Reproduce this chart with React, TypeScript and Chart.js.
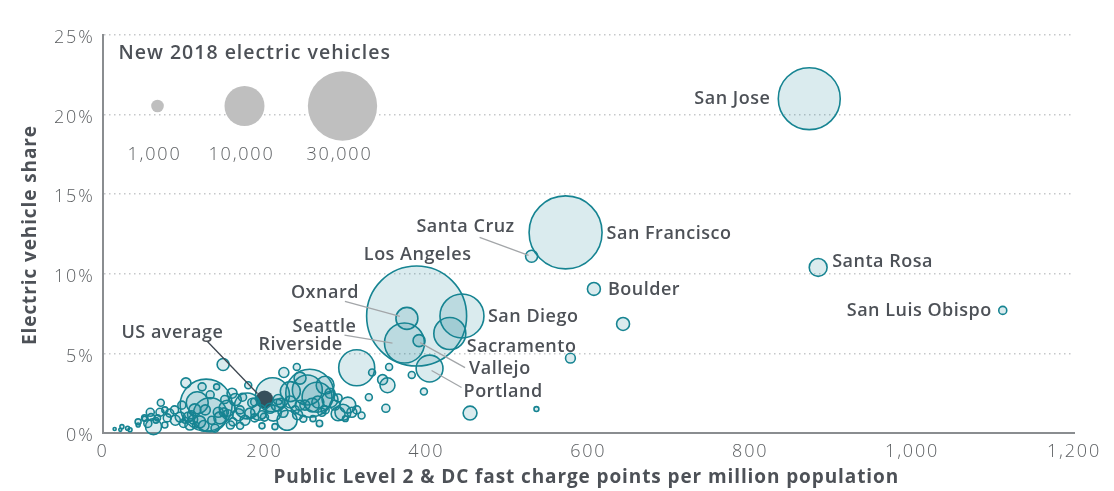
import React, { useEffect, useRef } from "react";
import { Chart, registerables } from "chart.js";

Chart.register(...registerables);

// ---------- DATA ----------
const xTickValues = [0, 200, 400, 600, 800, 1000, 1200];
const yTickValues = [0, 5, 10, 15, 20, 25];

const labeledCities = [
  "San Jose", "San Francisco", "Santa Rosa", "Boulder", "San Luis Obispo", "Santa Cruz",
  "Los Angeles", "Oxnard", "Seattle", "Riverside", "San Diego", "Sacramento", "Vallejo", "Portland",
];
const labeledChargePoints = [873, 572, 884, 607, 1112, 530, 388, 376, 373, 314, 444, 429, 391, 404];
const labeledShare = [21.0, 12.6, 10.4, 9.05, 7.7, 11.1, 7.35, 7.2, 5.65, 4.1, 7.35, 6.25, 5.8, 4.05];
const labeledNewEVs = [24000, 33300, 2000, 1050, 400, 900, 62500, 3000, 10000, 8100, 12100, 6400, 900, 4500];

const usAverageChargePoints = 200;
const usAverageShare = 2.1;
const usAverageNewEVs = 2000;

const otherChargePoints = [
  643, 578, 536, 454, 333, 346, 352, 354, 382, 397, 329, 240, 350, 224, 256, 253, 265, 232, 275, 244,
  281, 303, 297, 291, 308, 314, 271, 260, 228, 211, 216, 287, 244, 238, 259, 128, 133, 117, 149, 103,
  123, 72, 179, 193, 210, 213, 197, 63, 71, 83, 80, 90, 96, 106, 44, 56, 24, 34, 15, 133,
  141, 160, 164, 154, 145, 120, 108, 77, 176, 158, 188, 139, 114, 168, 180, 60, 66, 52, 100, 112,
  125, 150, 170, 185, 200, 220, 248, 268, 300, 320,
  89, 98, 102, 110, 115, 127, 135, 143, 151, 155, 161, 170, 173, 182, 188, 197, 207, 217, 223, 232,
  241, 250, 266, 275, 281, 291, 52, 59, 68, 77, 44, 31, 22,
];
const otherShare = [
  6.85, 4.7, 1.5, 1.25, 3.8, 3.35, 3.0, 4.15, 3.65, 2.6, 2.25, 4.15, 1.55, 3.8, 2.5, 2.7, 2.25, 2.6, 3.0, 3.45,
  2.1, 1.75, 1.3, 1.2, 1.3, 1.45, 1.3, 0.9, 0.8, 1.25, 1.75, 1.75, 1.75, 1.45, 1.75, 1.75, 1.15, 1.9, 4.3, 3.15,
  2.9, 1.9, 1.7, 1.3, 2.4, 0.4, 0.45, 0.4, 1.3, 1.25, 0.95, 0.8, 1.0, 1.0, 0.7, 0.6, 0.4, 0.2, 0.25, 2.4,
  2.9, 2.5, 2.1, 1.55, 0.95, 0.7, 0.5, 0.5, 0.8, 0.5, 0.95, 0.3, 1.45, 1.15, 3.0, 1.0, 0.8, 0.9, 0.6, 0.85,
  0.45, 1.3, 0.45, 1.9, 1.0, 1.9, 0.9, 0.6, 0.9, 1.1,
  1.45, 1.75, 0.8, 1.15, 0.5, 1.45, 0.8, 1.3, 2.1, 1.15, 0.7, 1.45, 2.25, 1.25, 1.95, 1.15, 1.55, 2.1, 1.3, 1.95,
  1.15, 1.75, 1.95, 1.45, 2.5, 2.2, 0.95, 1.3, 0.95, 1.45, 0.5, 0.3, 0.2,
];
const otherNewEVs = [
  1050, 600, 150, 1200, 300, 625, 1400, 300, 300, 300, 300, 300, 400, 625, 14400, 5600, 5600, 2500, 2000, 900,
  1600, 1600, 1600, 1200, 625, 400, 400, 225, 2500, 1600, 900, 600, 600, 400, 1200, 16900, 7200, 3000, 900, 625,
  400, 300, 4200, 1600, 7200, 225, 225, 1600, 400, 400, 400, 625, 625, 625, 225, 400, 100, 100, 60, 400,
  225, 625, 900, 1600, 900, 900, 625, 225, 625, 400, 400, 400, 900, 900, 300, 300, 200, 150, 400, 500,
  700, 500, 300, 500, 400, 500, 300, 250, 200, 300,
  400, 400, 225, 400, 225, 625, 400, 625, 400, 625, 400, 400, 400, 625, 400, 400, 625, 625, 625, 900,
  625, 625, 900, 400, 625, 400, 225, 400, 225, 225, 100, 100, 60,
];

const legendSizes = [1000, 10000, 30000];
const legendLabels = ["1,000", "10,000", "30,000"];
const legendTitle = "New 2018 electric vehicles";
const usAverageLabel = "US average";
const xAxisTitle = "Public Level 2 & DC fast charge points per million population";
const yAxisTitle = "Electric vehicle share";

// ---------- STYLE ----------
const FONT = '"Open Sans", "DejaVu Sans", sans-serif';
const TEXT = "#4d5157";
const TICK = "#5d6063";
const TEAL = "rgb(22, 132, 146)";
const TEAL_FILL = "rgba(22, 132, 150, 0.16)";

function radiusFor(evs: number): number {
  return 20 * Math.sqrt(evs / 10000);
}

type Layout = { dx: number; dy: number; align: CanvasTextAlign; line?: [number, number, number, number] };
const labelLayout: Record<string, Layout> = {
  "San Jose": { dx: -39, dy: 0, align: "right" },
  "San Francisco": { dx: 41, dy: 1, align: "left" },
  "Santa Rosa": { dx: 14, dy: -6, align: "left" },
  Boulder: { dx: 14, dy: 1, align: "left" },
  "San Luis Obispo": { dx: -11, dy: 0, align: "right" },
  "Santa Cruz": { dx: -66, dy: -29, align: "center", line: [-3, -1, -52, -19] },
  "Los Angeles": { dx: 1, dy: -61, align: "center" },
  Oxnard: { dx: -82, dy: -26, align: "center", line: [-7, -2, -62, -17] },
  Seattle: { dx: -80, dy: -16, align: "center", line: [-12, 0, -60, -8] },
  Riverside: { dx: -14, dy: -23, align: "right" },
  "San Diego": { dx: 26, dy: 1, align: "left" },
  Sacramento: { dx: 17, dy: 13, align: "left" },
  Vallejo: { dx: 50, dy: 28, align: "left", line: [1, 2, 46, 27] },
  Portland: { dx: 34, dy: 23, align: "left", line: [2, 2, 32, 19] },
};

const annotationPlugin = {
  id: "annotations",
  beforeDraw(chart: any) {
    (chart.ctx as any).letterSpacing = "1.8px";
  },
  afterDatasetsDraw(chart: any) {
    const { ctx, scales, chartArea } = chart;
    const xs = scales.x;
    const ys = scales.y;
    ctx.save();

    // leader lines
    labeledCities.forEach((name, i) => {
      const L = labelLayout[name];
      if (!L || !L.line) return;
      const px = xs.getPixelForValue(labeledChargePoints[i]);
      const py = ys.getPixelForValue(labeledShare[i]);
      ctx.strokeStyle = "#a3a6a9";
      ctx.lineWidth = 1.3;
      ctx.beginPath();
      ctx.moveTo(px + L.line[0], py + L.line[1]);
      ctx.lineTo(px + L.line[2], py + L.line[3]);
      ctx.stroke();
    });

    // US average leader
    const ux = xs.getPixelForValue(usAverageChargePoints);
    const uy = ys.getPixelForValue(usAverageShare);
    ctx.strokeStyle = "#3d4650";
    ctx.lineWidth = 1.3;
    ctx.beginPath();
    ctx.moveTo(ux - 7, uy - 6);
    ctx.lineTo(ux - 57, uy - 58);
    ctx.stroke();

    // city labels
    ctx.letterSpacing = "0.5px";
    ctx.font = `600 18px ${FONT}`;
    ctx.fillStyle = TEXT;
    ctx.textBaseline = "middle";
    labeledCities.forEach((name, i) => {
      const L = labelLayout[name];
      const px = xs.getPixelForValue(labeledChargePoints[i]);
      const py = ys.getPixelForValue(labeledShare[i]);
      ctx.textAlign = L.align;
      ctx.fillText(name, px + L.dx, py + L.dy);
    });
    ctx.textAlign = "center";
    ctx.fillText(usAverageLabel, ux - 92, uy - 67);

    // size legend
    const lx = chartArea.left;
    const ly = chartArea.top;
    ctx.textAlign = "left";
    ctx.letterSpacing = "1px";
    ctx.font = `600 19.5px ${FONT}`;
    ctx.fillText(legendTitle, lx + 16, ly + 18);
    const centers = [55, 142, 240];
    ctx.fillStyle = "#bfbfbf";
    legendSizes.forEach((v, i) => {
      ctx.beginPath();
      ctx.arc(lx + centers[i], ly + 71, radiusFor(v), 0, Math.PI * 2);
      ctx.fill();
    });
    ctx.fillStyle = TICK;
    ctx.letterSpacing = "1.8px";
    ctx.font = `300 18px ${FONT}`;
    ctx.textAlign = "center";
    legendLabels.forEach((t, i) => {
      ctx.fillText(t, lx + centers[i] - 3, ly + 120);
    });

    // axis titles
    ctx.fillStyle = TEXT;
    ctx.letterSpacing = "0.9px";
    ctx.font = `700 19px ${FONT}`;
    ctx.textAlign = "center";
    ctx.fillText(xAxisTitle, (chartArea.left + chartArea.right) / 2 - 2, 478);
    ctx.save();
    ctx.translate(31, (chartArea.top + chartArea.bottom) / 2 + 1);
    ctx.rotate(-Math.PI / 2);
    ctx.fillText(yAxisTitle, 0, 0);
    ctx.restore();

    ctx.restore();
  },
  afterDraw(chart: any) {
    (chart.ctx as any).letterSpacing = "0px";
  },
};

function toPoints(xv: number[], yv: number[], ev: number[]) {
  return xv.map((x, i) => ({ x, y: yv[i], r: radiusFor(ev[i]) }));
}

export default function App() {
  const ref = useRef<HTMLCanvasElement | null>(null);

  useEffect(() => {
    if (!ref.current) return;
    const chart = new Chart(ref.current, {
      type: "bubble",
      data: {
        datasets: [
          {
            label: "Other metro areas",
            data: toPoints(otherChargePoints, otherShare, otherNewEVs),
            backgroundColor: TEAL_FILL,
            borderColor: TEAL,
            borderWidth: 1.6,
            clip: false,
          },
          {
            label: "Labeled metro areas",
            data: toPoints(labeledChargePoints, labeledShare, labeledNewEVs),
            backgroundColor: TEAL_FILL,
            borderColor: TEAL,
            borderWidth: 1.6,
            clip: false,
          },
          {
            label: "US average",
            data: [{ x: usAverageChargePoints, y: usAverageShare, r: radiusFor(usAverageNewEVs) }],
            backgroundColor: "#3d4650",
            borderColor: "#3d4650",
            borderWidth: 0,
            clip: false,
          },
        ],
      },
      options: {
        responsive: false,
        animation: false,
        devicePixelRatio: 1,
        layout: { autoPadding: false, padding: { left: 0, right: 40, top: 35, bottom: 0 } },
        plugins: { legend: { display: false }, tooltip: { enabled: false } },
        elements: { point: { hoverRadius: 0 } },
        scales: {
          x: {
            type: "linear",
            min: 0,
            max: 1200,
            afterBuildTicks(scale: any) {
              scale.ticks = xTickValues.map((v) => ({ value: v }));
            },
            afterFit(scale: any) {
              scale.height = 58;
              scale.paddingLeft = 0;
              scale.paddingRight = 0;
              scale.paddingTop = 0;
              scale.paddingBottom = 0;
            },
            ticks: {
              color: TICK,
              font: { family: FONT, size: 18, weight: "300" },
              padding: 8,
              maxRotation: 0,
              callback: (v: any) => Number(v).toLocaleString("en-US"),
            },
            grid: { display: false, drawTicks: false },
            border: { display: true, color: "#8a8d90", width: 2 },
          },
          y: {
            type: "linear",
            min: 0,
            max: 25,
            afterBuildTicks(scale: any) {
              scale.ticks = yTickValues.map((v) => ({ value: v }));
            },
            afterFit(scale: any) {
              scale.width = 102.5;
              scale.paddingLeft = 0;
              scale.paddingRight = 0;
              scale.paddingTop = 0;
              scale.paddingBottom = 0;
            },
            ticks: {
              color: TICK,
              font: { family: FONT, size: 18, weight: "300" },
              padding: 8,
              labelOffset: 3,
              callback: (v: any) => `${v}%`,
            },
            grid: {
              drawTicks: false,
              color: (c: any) => (c.tick && c.tick.value === 0 ? "rgba(0,0,0,0)" : "#c5c7c9"),
              lineWidth: 1.5,
            },
            border: { display: true, color: "#8a8d90", width: 2, dash: [1.5, 3.5] },
          },
        },
      },
      plugins: [annotationPlugin],
    } as any);
    return () => chart.destroy();
  }, []);

  return (
    <div style={{ position: "absolute", left: 0, top: 0, width: 1114, height: 491, background: "#fff" }}>
      <canvas ref={ref} width={1114} height={491} style={{ display: "block" }} />
    </div>
  );
}
